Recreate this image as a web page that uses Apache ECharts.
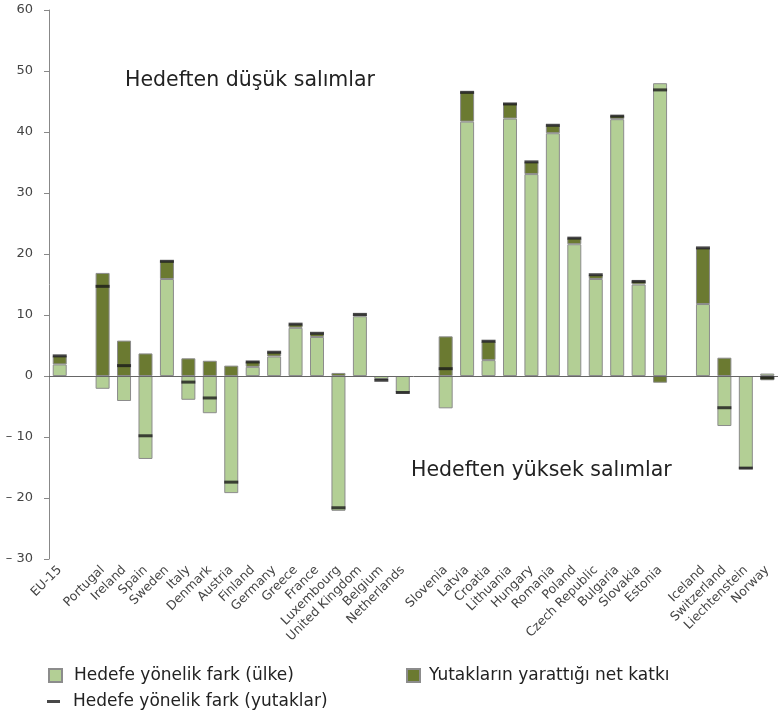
<!DOCTYPE html>
<html>
<head>
<meta charset="utf-8">
<script src="https://cdn.jsdelivr.net/npm/echarts@6/dist/echarts.min.js"></script>
<style>
  html, body { margin: 0; padding: 0; background: #fff; }
  #chart { width: 778px; height: 717px; }
</style>
</head>
<body>
<div id="chart"></div>
<script>
// kategoriler (bos olanlar gruplar arasi bosluk)
var categories = ['EU-15', '', 'Portugal', 'Ireland', 'Spain', 'Sweden', 'Italy', 'Denmark', 'Austria',
  'Finland', 'Germany', 'Greece', 'France', 'Luxembourg', 'United Kingdom', 'Belgium', 'Netherlands', '',
  'Slovenia', 'Latvia', 'Croatia', 'Lithuania', 'Hungary', 'Romania', 'Poland', 'Czech Republic',
  'Bulgaria', 'Slovakia', 'Estonia', '', 'Iceland', 'Switzerland', 'Liechtenstein', 'Norway']

// Hedefe yonelik fark (ulke)
var countryGap = [1.9, null, -2.1, -4.1, -13.6, 15.9, -3.9, -6.1, -19.2, 1.5, 3.2, 7.9, 6.4, -22.1, 9.8, -0.5, -2.7, null,
  -5.3, 41.7, 2.6, 42.2, 33.1, 39.8, 21.6, 15.9, 42.1, 15.0, 48.0, null, 11.8, -8.2, -15.1, 0.4]

// Yutaklarin yarattigi net katki
var sinkContribution = [1.4, null, 16.9, 5.8, 3.7, 3.0, 2.9, 2.5, 1.7, 0.9, 0.7, 0.6, 0.6, 0.5, 0.3, -0.2, -0.1, null,
  6.5, 4.9, 3.1, 2.5, 2.0, 1.3, 1.0, 0.7, 0.6, 0.6, -1.1, null, 9.2, 3.0, 0, -0.7]

// Hedefe yonelik fark (yutaklar)
var gapWithSinks = [3.3, null, 14.7, 1.7, -9.8, 18.8, -1.0, -3.6, -17.4, 2.3, 3.9, 8.5, 7.0, -21.6, 10.1, -0.7, -2.7, null,
  1.2, 46.5, 5.7, 44.6, 35.1, 41.1, 22.6, 16.6, 42.6, 15.5, 46.9, null, 21.0, -5.2, -15.1, -0.3]

var yTicks = [-30, -20, -10, 0, 10, 20, 30, 40, 50, 60]

var font = 'DejaVu Sans'
var chart = echarts.init(document.getElementById('chart'))

chart.setOption({
  animation: false,
  textStyle: { fontFamily: font },
  grid: {
    left: 49,
    right: 0,
    top: 10,
    bottom: 158
  },
  legend: [
    {
      left: 48,
      top: 667,
      padding: 0,
      icon: 'rect',
      itemWidth: 13,
      itemHeight: 13,
      data: ['Hedefe yönelik fark (ülke)'],
      textStyle: { fontSize: 17, color: '#222', padding: [0, 0, 0, 7] }
    },
    {
      left: 47,
      top: 693,
      padding: 0,
      icon: 'rect',
      itemWidth: 13,
      itemHeight: 3,
      data: ['Hedefe yönelik fark (yutaklar)'],
      textStyle: { fontSize: 17, color: '#222', padding: [0, 0, 0, 8] }
    },
    {
      left: 406,
      top: 667,
      padding: 0,
      icon: 'rect',
      itemWidth: 13,
      itemHeight: 13,
      data: ['Yutakların yarattığı net katkı'],
      textStyle: { fontSize: 17, color: '#222', padding: [0, 0, 0, 4] }
    }
  ],
  graphic: [
    {
      type: 'text',
      left: 125,
      top: 70,
      style: { text: 'Hedeften düşük salımlar', fontSize: 20.5, fill: '#222', fontFamily: font }
    },
    {
      type: 'text',
      left: 411,
      top: 460,
      style: { text: 'Hedeften yüksek salımlar', fontSize: 20.5, fill: '#222', fontFamily: font }
    }
  ],
  xAxis: {
    type: 'category',
    data: categories,
    axisLine: { show: false, onZero: false },
    axisTick: { show: false },
    axisLabel: {
      interval: 0,
      rotate: 45,
      margin: 9,
      fontSize: 12.5,
      color: '#444'
    }
  },
  yAxis: {
    type: 'value',
    min: yTicks[0],
    max: yTicks[yTicks.length - 1],
    interval: 10,
    splitLine: { show: false },
    axisLine: { show: true, lineStyle: { color: '#888' } },
    axisTick: { show: true, length: 5, lineStyle: { color: '#888' } },
    axisLabel: {
      fontSize: 13,
      color: '#444',
      margin: 16,
      formatter: function(v) {
        return v < 0 ? '– ' + (-v) : String(v)
      }
    }
  },
  series: [
    {
      name: 'Hedefe yönelik fark (ülke)',
      type: 'bar',
      stack: 'gap',
      barWidth: 14,
      data: countryGap,
      itemStyle: { color: '#b3cf95', borderColor: '#8c8c8c', borderWidth: 1 },
      markLine: {
        silent: true,
        symbol: ['none', 'none'],
        label: { show: false },
        lineStyle: { color: '#666', width: 1, type: 'solid' },
        data: [{ yAxis: 0 }]
      }
    },
    {
      name: 'Yutakların yarattığı net katkı',
      type: 'bar',
      stack: 'gap',
      barWidth: 14,
      data: sinkContribution,
      itemStyle: { color: '#6b7a31', borderColor: '#8c8c8c', borderWidth: 1 }
    },
    {
      name: 'Hedefe yönelik fark (yutaklar)',
      type: 'scatter',
      symbol: 'rect',
      symbolSize: [14, 3],
      z: 5,
      data: gapWithSinks,
      itemStyle: { color: '#1a1a1a' }
    }
  ]
})
</script>
</body>
</html>
